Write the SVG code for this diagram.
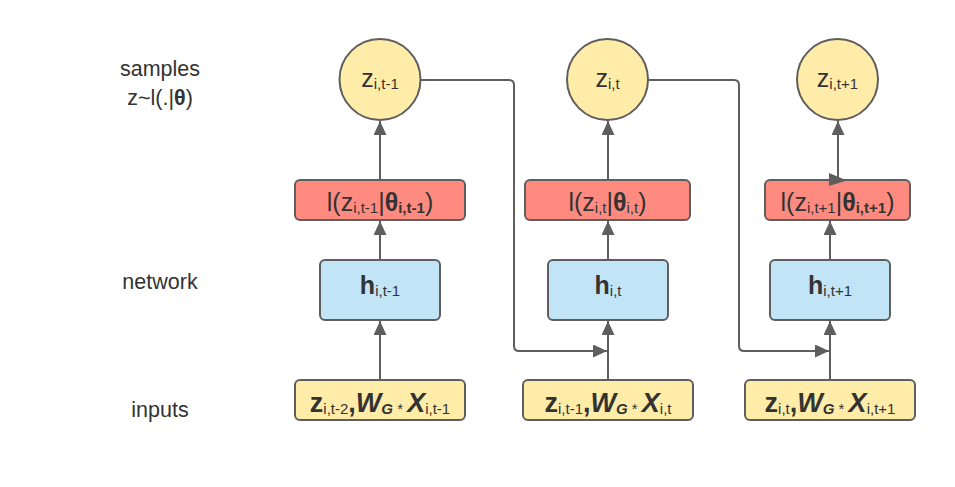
<svg xmlns="http://www.w3.org/2000/svg" width="955" height="487" viewBox="0 0 955 487">
<style>
  .node { stroke: #5e5e5e; stroke-width: 2; }
  .circ { fill: #ffeca8; }
  .red { fill: #ff8b80; }
  .blue { fill: #c2e4f7; }
  .yel { fill: #ffeca8; }
  .conn { fill: none; stroke: #5e5e5e; stroke-width: 2; }
  text { font-family: "Liberation Sans", Arial, sans-serif; fill: #333333; }
  .lbl { font-size: 21.5px; text-anchor: middle; }
  .m { font-size: 25px; text-anchor: middle; }
  .my { font-size: 27px; text-anchor: middle; }
  .s { font-size: 15px; }
  .b { font-weight: bold; }
  .bi { font-weight: bold; font-style: italic; }
</style>
<defs>
  <marker id="ah" markerUnits="userSpaceOnUse" markerWidth="16" markerHeight="14" refX="14" refY="6.5" orient="auto">
    <path d="M0,0 L14,6.5 L0,13 Z" fill="#5e5e5e"/>
  </marker>
</defs>
<rect width="955" height="487" fill="#ffffff"/>

<g id="labels">
  <text class="lbl" x="160" y="76">samples</text>
  <text class="lbl" x="160" y="105">z~l(.|<tspan class="b">θ</tspan>)</text>
  <text class="lbl" x="160" y="289">network</text>
  <text class="lbl" x="160" y="417">inputs</text>
</g>

<g id="connectors">
  <line class="conn" x1="380" y1="180" x2="380" y2="121" marker-end="url(#ah)"/>
  <line class="conn" x1="380" y1="260" x2="380" y2="221" marker-end="url(#ah)"/>
  <line class="conn" x1="380" y1="380" x2="380" y2="321" marker-end="url(#ah)"/>
  <line class="conn" x1="608" y1="180" x2="608" y2="121" marker-end="url(#ah)"/>
  <line class="conn" x1="608" y1="260" x2="608" y2="221" marker-end="url(#ah)"/>
  <line class="conn" x1="608" y1="380" x2="608" y2="321" marker-end="url(#ah)"/>
  <line class="conn" x1="838" y1="180" x2="838" y2="121" marker-end="url(#ah)"/>
  <line class="conn" x1="830" y1="260" x2="830" y2="221" marker-end="url(#ah)"/>
  <line class="conn" x1="830" y1="380" x2="830" y2="321" marker-end="url(#ah)"/>
  <path class="conn" d="M420,80 H509 Q514,80 514,85 V346 Q514,351 519,351 H607" marker-end="url(#ah)"/>
  <path class="conn" d="M648,80 H734 Q739,80 739,85 V346 Q739,351 744,351 H829" marker-end="url(#ah)"/>
</g>

<g id="z_t-1">
  <circle class="node circ" cx="380" cy="79.5" r="40.5"/>
  <text class="m" x="380" y="87">z<tspan class="s" dy="2">i,t-1</tspan></text>
</g>
<g id="z_t">
  <circle class="node circ" cx="607.5" cy="79.5" r="40.5"/>
  <text class="m" x="607.5" y="87">z<tspan class="s" dy="2">i,t</tspan></text>
</g>
<g id="z_t+1">
  <circle class="node circ" cx="837.5" cy="79.5" r="40.5"/>
  <text class="m" x="837.5" y="87">z<tspan class="s" dy="2">i,t+1</tspan></text>
</g>

<g id="l_t-1">
  <rect class="node red" x="295" y="180" width="170" height="40" rx="5"/>
  <text class="m" x="380" y="211">l(z<tspan class="s" dy="2">i,t-1</tspan><tspan dy="-2">|</tspan><tspan class="b">θ</tspan><tspan class="s b" dy="2">i,t-1</tspan><tspan dy="-2">)</tspan></text>
</g>
<g id="l_t">
  <rect class="node red" x="525" y="180" width="165" height="40" rx="5"/>
  <text class="m" x="607.5" y="211">l(z<tspan class="s" dy="2">i,t</tspan><tspan dy="-2">|</tspan><tspan class="b">θ</tspan><tspan class="s" dy="2">i,t</tspan><tspan dy="-2">)</tspan></text>
</g>
<g id="l_t+1">
  <rect class="node red" x="765" y="180" width="145" height="40" rx="5"/>
  <text class="m" x="837.5" y="211">l(z<tspan class="s" dy="2">i,t+1</tspan><tspan dy="-2">|</tspan><tspan class="b">θ</tspan><tspan class="s b" dy="2">i,t+1</tspan><tspan dy="-2">)</tspan></text>
  <polygon points="829,173 847,180.5 829,186" fill="#5e5e5e"/>
</g>

<g id="h_t-1">
  <rect class="node blue" x="320" y="260" width="120" height="60" rx="5"/>
  <text class="m" x="380" y="294"><tspan class="b">h</tspan><tspan class="s" dy="2">i,t-1</tspan></text>
</g>
<g id="h_t">
  <rect class="node blue" x="548" y="260" width="120" height="60" rx="5"/>
  <text class="m" x="608" y="294"><tspan class="b">h</tspan><tspan class="s" dy="2">i,t</tspan></text>
</g>
<g id="h_t+1">
  <rect class="node blue" x="770" y="260" width="120" height="60" rx="5"/>
  <text class="m" x="830" y="294"><tspan class="b">h</tspan><tspan class="s" dy="2">i,t+1</tspan></text>
</g>

<g id="in_t-1">
  <rect class="node yel" x="295" y="380" width="170" height="40" rx="5"/>
  <text class="my" x="380" y="412"><tspan class="b">z</tspan><tspan class="s" dy="2">i,t-2</tspan><tspan class="b" dy="-2">,</tspan><tspan class="bi">W</tspan><tspan class="s bi" dy="2">G</tspan><tspan class="s"> * </tspan><tspan class="bi" dy="-2">X</tspan><tspan class="s" dy="2">i,t-1</tspan></text>
</g>
<g id="in_t">
  <rect class="node yel" x="523" y="380" width="170" height="40" rx="5"/>
  <text class="my" x="608" y="412"><tspan class="b">z</tspan><tspan class="s" dy="2">i,t-1</tspan><tspan class="b" dy="-2">,</tspan><tspan class="bi">W</tspan><tspan class="s bi" dy="2">G</tspan><tspan class="s"> * </tspan><tspan class="bi" dy="-2">X</tspan><tspan class="s" dy="2">i,t</tspan></text>
</g>
<g id="in_t+1">
  <rect class="node yel" x="745" y="380" width="170" height="40" rx="5"/>
  <text class="my" x="830" y="412"><tspan class="b">z</tspan><tspan class="s" dy="2">i,t</tspan><tspan class="b" dy="-2">,</tspan><tspan class="bi">W</tspan><tspan class="s bi" dy="2">G</tspan><tspan class="s"> * </tspan><tspan class="bi" dy="-2">X</tspan><tspan class="s" dy="2">i,t+1</tspan></text>
</g>
</svg>
